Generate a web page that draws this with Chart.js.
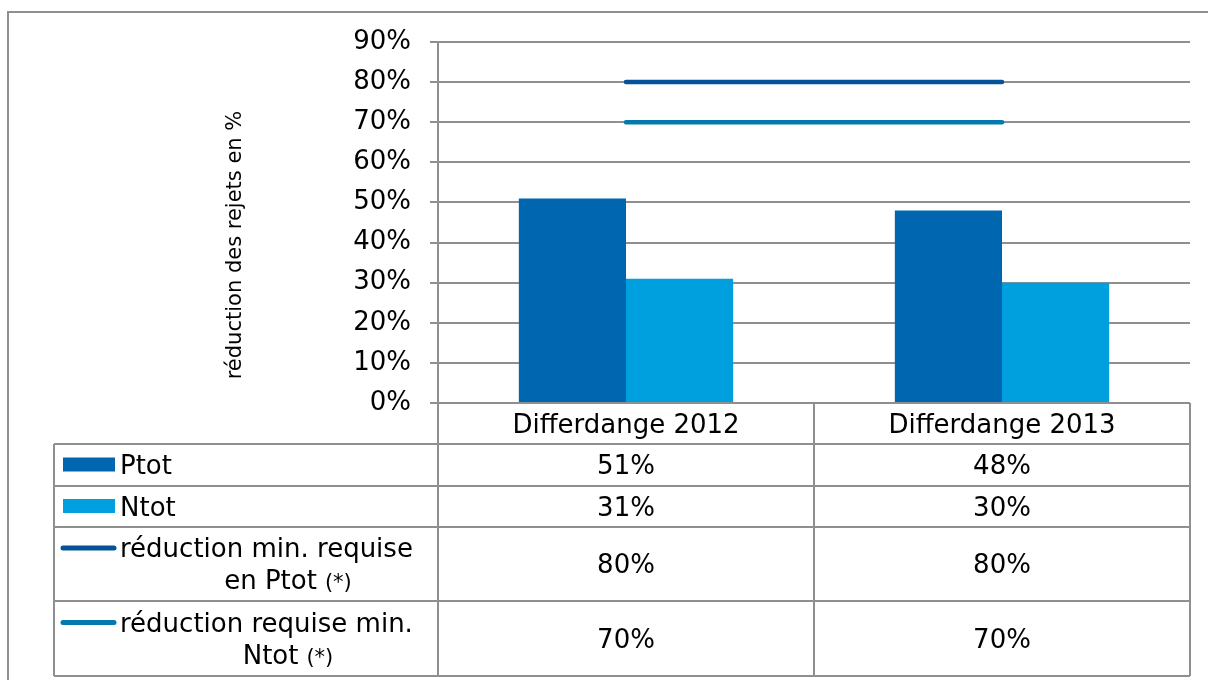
<!DOCTYPE html>
<html>
<head>
    <title>Réduction des rejets</title>
    <script src="https://cdn.jsdelivr.net/npm/chart.js"></script>
    <style>
        body { margin: 0; background: #fff; }
    </style>
</head>
<body>
<canvas id="myChart" width="1208" height="680"></canvas>
<script>
// data
var categories = ['Differdange 2012', 'Differdange 2013'];
var ptot = [51, 48];
var ntot = [31, 30];
var minPtot = [80, 80];
var minNtot = [70, 70];
var seriesNames = [
    ['Ptot'],
    ['Ntot'],
    ['réduction min. requise', 'en Ptot'],
    ['réduction requise min.', 'Ntot']
];
var yTicks = [0, 10, 20, 30, 40, 50, 60, 70, 80, 90];

var FONT = '"DejaVu Sans", Verdana, sans-serif';
var GRID = '#8f8f8f';

// draws the frame, axis title and the data table under the plot
var tablePlugin = {
    id: 'dataTable',
    afterDraw: function(chart) {
        var ctx = chart.ctx;
        var area = chart.chartArea;
        var x = chart.scales.x;
        var half = (x.getPixelForValue(1) - x.getPixelForValue(0)) / 2;

        ctx.save();
        // outer frame
        ctx.strokeStyle = GRID;
        ctx.lineWidth = 2;
        ctx.strokeRect(8, 12, 1220, 700);

        // axis title
        ctx.save();
        ctx.translate(236, 245);
        ctx.rotate(-Math.PI / 2);
        ctx.fillStyle = '#000';
        ctx.font = '21px ' + FONT;
        ctx.textAlign = 'center';
        ctx.textBaseline = 'middle';
        ctx.fillText('réduction des rejets en %', 0, 0);
        ctx.restore();

        var tableLeft = 54;
        var headTop = area.bottom;
        var rows = [444, 486, 527, 601, 676];
        var colEdges = [area.left];
        categories.forEach(function(c, i) { colEdges.push(x.getPixelForValue(i) + half); });

        // grid lines of the table
        ctx.beginPath();
        ctx.moveTo(tableLeft, rows[0]); ctx.lineTo(tableLeft, rows[rows.length - 1]);
        colEdges.forEach(function(cx) {
            ctx.moveTo(cx, headTop); ctx.lineTo(cx, rows[rows.length - 1]);
        });
        rows.forEach(function(ry) {
            ctx.moveTo(tableLeft, ry); ctx.lineTo(colEdges[colEdges.length - 1], ry);
        });
        ctx.stroke();

        ctx.fillStyle = '#000';
        ctx.font = '26px ' + FONT;
        ctx.textAlign = 'center';
        ctx.textBaseline = 'alphabetic';
        // header
        categories.forEach(function(c, i) {
            ctx.fillText(c, x.getPixelForValue(i), (headTop + rows[0]) / 2 + 9);
        });

        // series rows
        var order = [0, 1, 2, 3];
        var dsIndex = [2, 3, 0, 1];
        order.forEach(function(r) {
            var ds = chart.data.datasets[dsIndex[r]];
            var mid = (rows[r] + rows[r + 1]) / 2;
            // swatch
            if (ds.type === 'bar') {
                ctx.fillStyle = ds.backgroundColor;
                ctx.fillRect(63, mid - 7.5, 52, 14);
            } else {
                ctx.strokeStyle = ds.borderColor;
                ctx.lineWidth = 5;
                ctx.lineCap = 'round';
                ctx.beginPath();
                ctx.moveTo(63, mid - 16); ctx.lineTo(114, mid - 16);
                ctx.stroke();
            }
            ctx.fillStyle = '#000';
            var names = seriesNames[r];
            if (names.length === 1) {
                ctx.font = '26px ' + FONT;
                ctx.textAlign = 'left';
                ctx.fillText(names[0], 120, mid + 9);
            } else {
                ctx.font = '26px ' + FONT;
                ctx.textAlign = 'left';
                ctx.fillText(names[0], 120, mid - 7);
                var w1 = ctx.measureText(names[1]).width;
                ctx.font = '21px ' + FONT;
                var w2 = ctx.measureText('(*)').width;
                var start = 288 - (w1 + 8 + w2) / 2;
                ctx.fillText('(*)', start + w1 + 8, mid + 25);
                ctx.font = '26px ' + FONT;
                ctx.fillText(names[1], start, mid + 25);
            }
            ctx.font = '26px ' + FONT;
            ctx.textAlign = 'center';
            ds.data.forEach(function(v, i) {
                ctx.fillText(v + '%', x.getPixelForValue(i), mid + 9);
            });
        });
        ctx.restore();
    }
};

var ctx = document.getElementById('myChart').getContext('2d');
var myChart = new Chart(ctx, {
    data: {
        labels: categories,
        datasets: [
            {
                type: 'line',
                label: 'réduction min. requise en Ptot (*)',
                data: minPtot,
                borderColor: '#03529a',
                borderWidth: 4.5,
                borderCapStyle: 'round',
                pointRadius: 0,
                order: 0
            },
            {
                type: 'line',
                label: 'réduction requise min. Ntot (*)',
                data: minNtot,
                borderColor: '#0479ad',
                borderWidth: 4.5,
                borderCapStyle: 'round',
                pointRadius: 0,
                order: 0
            },
            {
                type: 'bar',
                label: 'Ptot',
                data: ptot,
                backgroundColor: '#0066b0',
                categoryPercentage: 0.57,
                barPercentage: 1.0,
                order: 1
            },
            {
                type: 'bar',
                label: 'Ntot',
                data: ntot,
                backgroundColor: '#00a0de',
                categoryPercentage: 0.57,
                barPercentage: 1.0,
                order: 1
            }
        ]
    },
    options: {
        responsive: false,
        animation: false,
        layout: {
            padding: { left: 0, top: 42, right: 18, bottom: 277 }
        },
        plugins: {
            legend: { display: false },
            tooltip: { enabled: false }
        },
        scales: {
            x: {
                display: false,
                offset: true
            },
            y: {
                min: 0,
                max: 90,
                afterFit: function(s) { s.width = 438; },
                afterBuildTicks: function(s) {
                    s.ticks = yTicks.map(function(v) { return { value: v }; });
                },
                ticks: {
                    padding: 19,
                    color: '#000',
                    font: { family: FONT, size: 26 },
                    callback: function(v) { return v + '%'; }
                },
                grid: {
                    color: GRID,
                    lineWidth: 2,
                    tickLength: 8
                },
                border: { color: GRID, width: 2 }
            }
        }
    },
    plugins: [tablePlugin]
});
</script>
</body>
</html>
